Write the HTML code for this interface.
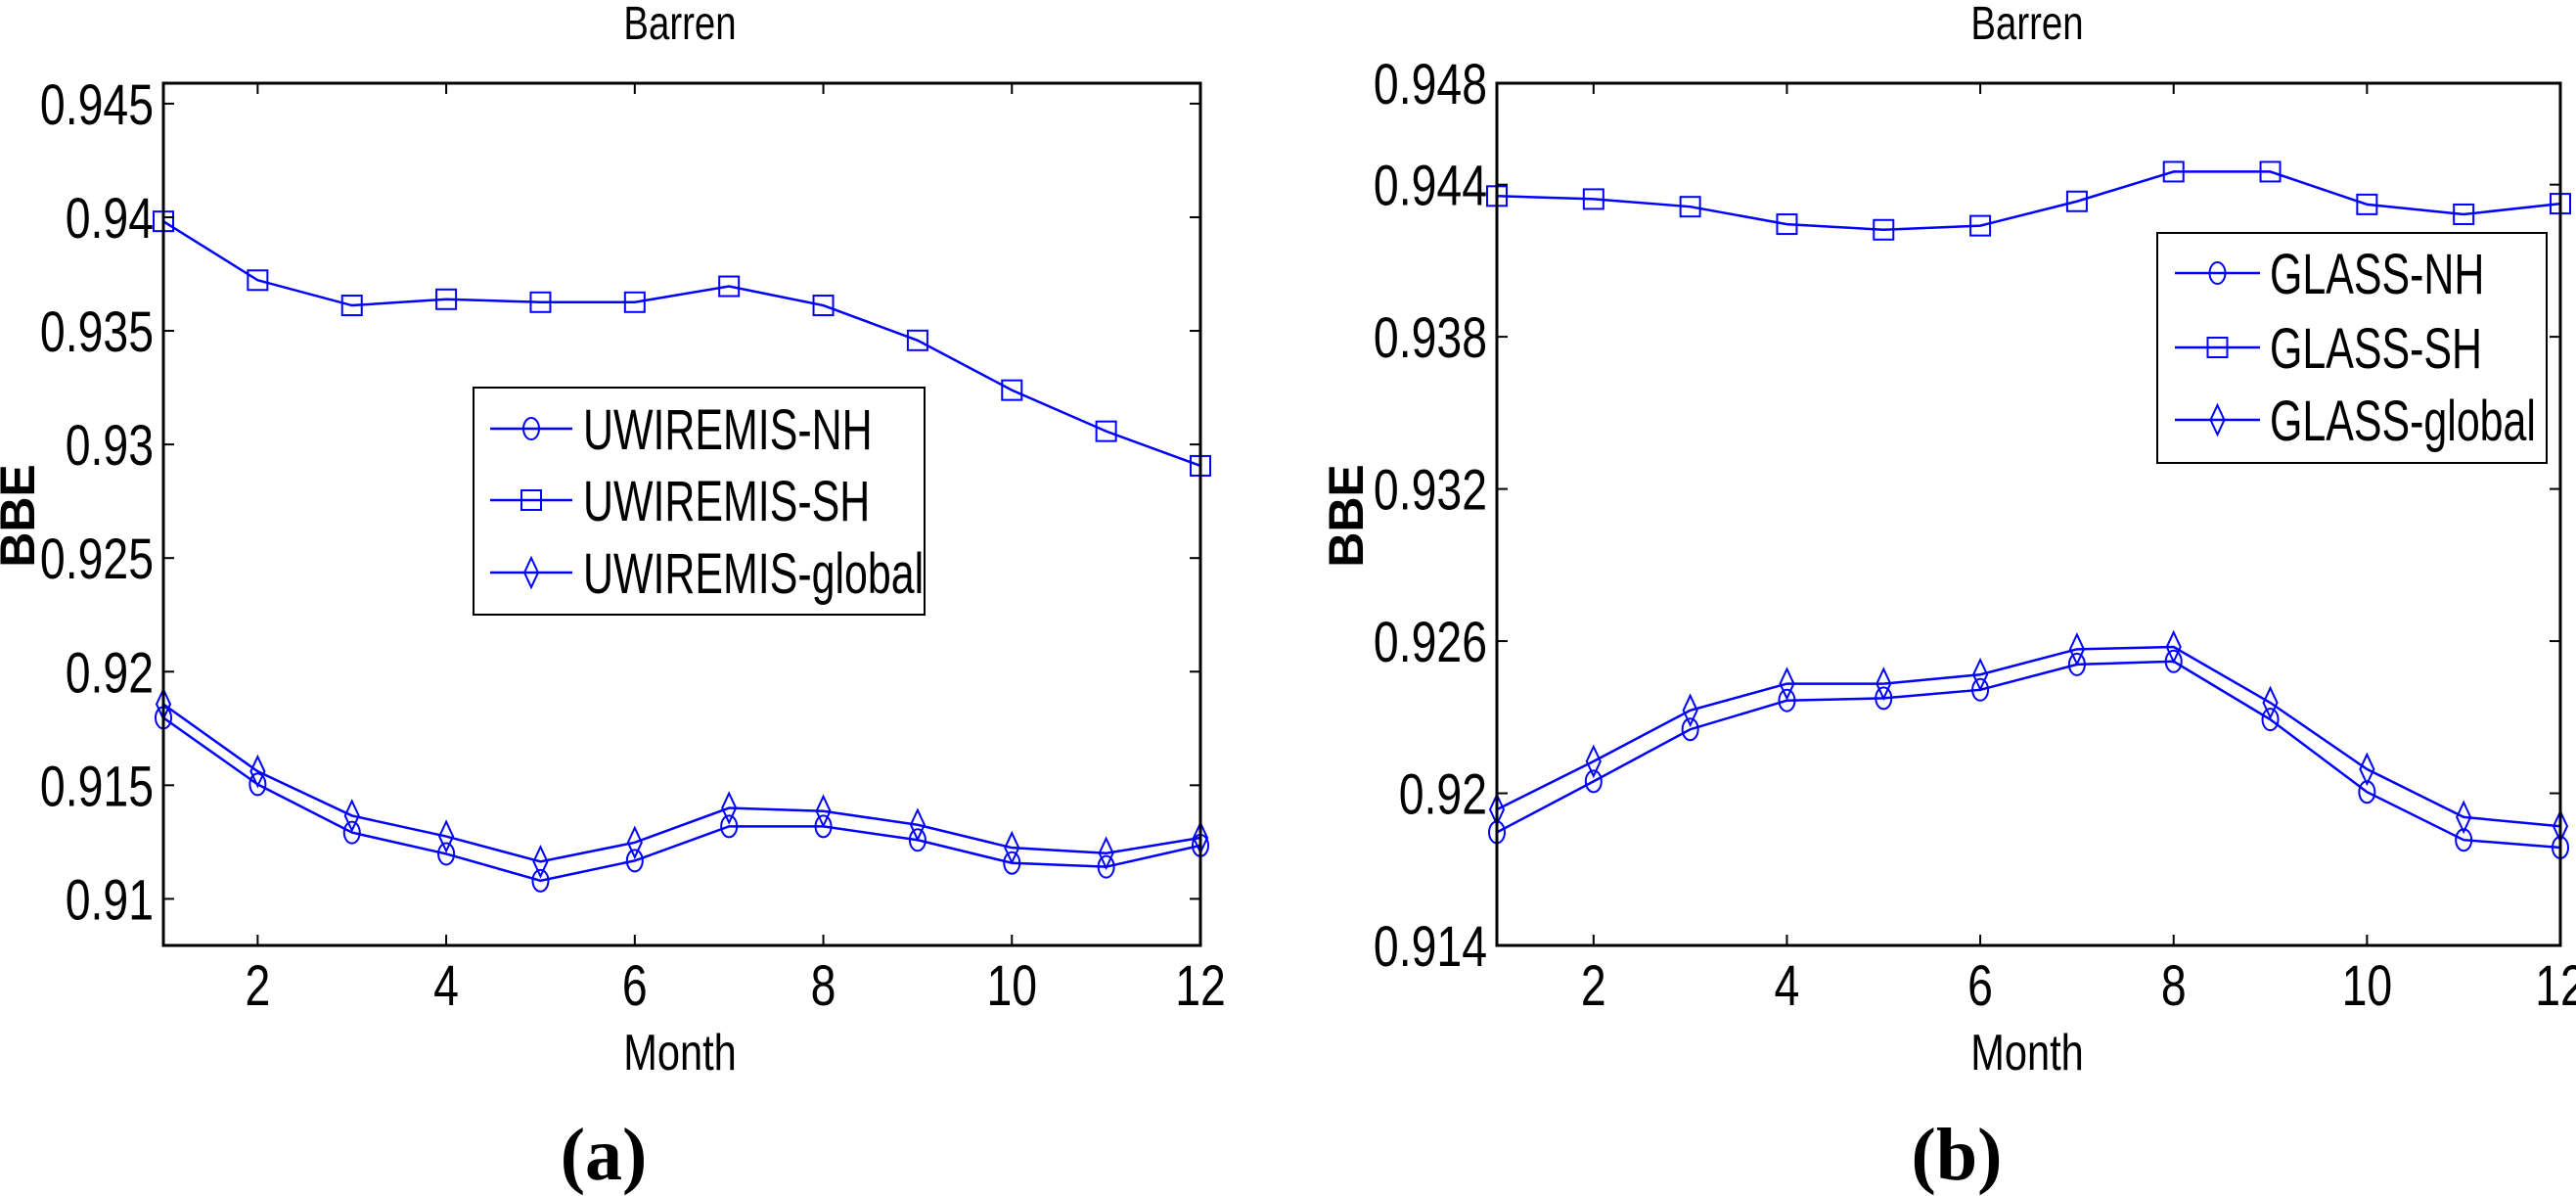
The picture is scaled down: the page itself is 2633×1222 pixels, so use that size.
<!DOCTYPE html>
<html><head><meta charset="utf-8"><style>
html,body{margin:0;padding:0;background:#fff}
svg{display:block}
text{font-family:"Liberation Sans",sans-serif;fill:#000}
text.cap{font-family:"Liberation Serif",serif}
</style></head><body>
<svg id="fig" width="2633" height="1222" viewBox="0 0 2633 1222" xmlns="http://www.w3.org/2000/svg"></svg>
<script>
const months = [1,2,3,4,5,6,7,8,9,10,11,12];
const xTickVals = [2,4,6,8,10,12];
const aTickVals = [0.91,0.915,0.92,0.925,0.93,0.935,0.94,0.945];
const aTickLabels = ["0.91","0.915","0.92","0.925","0.93","0.935","0.94","0.945"];
const aNH = [0.91797,0.91504,0.91292,0.91198,0.9108,0.91168,0.91319,0.91319,0.91259,0.91158,0.91141,0.91235];
const aSH = [0.93982,0.93723,0.93612,0.93639,0.93626,0.93626,0.93696,0.93612,0.93458,0.93239,0.93058,0.92906];
const aGL = [0.91857,0.91561,0.91366,0.91275,0.91164,0.91248,0.914,0.91386,0.91326,0.91225,0.91201,0.91269];
const bTickVals = [0.914,0.92,0.926,0.932,0.938,0.944,0.948];
const bTickLabels = ["0.914","0.92","0.926","0.932","0.938","0.944","0.948"];
const bNH = [0.91846,0.92047,0.92252,0.92366,0.92375,0.92408,0.92508,0.9252,0.92291,0.92005,0.91816,0.91786];
const bSH = [0.94355,0.94343,0.94313,0.94244,0.94222,0.94238,0.94334,0.94451,0.94451,0.94322,0.94283,0.94325];
const bGL = [0.91936,0.92126,0.92327,0.92432,0.92432,0.92468,0.92568,0.92577,0.92357,0.92095,0.91906,0.9187];

const NS="http://www.w3.org/2000/svg";
const svg=document.getElementById('fig');
function mk(tag,attrs,parent){const e=document.createElementNS(NS,tag);for(const k in attrs)e.setAttribute(k,attrs[k]);(parent||svg).appendChild(e);return e;}
function txt(str,x,y,size,anchor,sx,parent,extra){
  const g=mk('g',{transform:`translate(${x},${y}) scale(${sx},1)`},parent);
  const t=mk('text',Object.assign({x:0,y:0,'font-size':size,'text-anchor':anchor},extra||{}),g);
  t.textContent=str;return t;
}
function marker(type,x,y,parent){
  let m;
  if(type==='o') m=mk('ellipse',{cx:x,cy:y,rx:8,ry:11,fill:'none',stroke:'#0000ff','stroke-width':2},parent);
  else if(type==='s') m=mk('rect',{x:x-10,y:y-10,width:20,height:20,fill:'none',stroke:'#0000ff','stroke-width':2},parent);
  else m=mk('polygon',{points:`${x},${y-15} ${x+7},${y} ${x},${y+15} ${x-7},${y}`,fill:'none',stroke:'#0000ff','stroke-width':2},parent);
  return m;
}
function panel(cfg){
  const P=mk('g',{});
  
  
  const {L,R,T,B,ymin,ymax}=cfg;
  const xs=v=>L+(v-1)/(12-1)*(R-L);
  const ys=v=>B-(v-ymin)/(ymax-ymin)*(B-T);
  cfg.series.forEach(s=>{
    const g=mk('g',{},P);
    
    
    const pts=months.map((m,i)=>xs(m)+','+ys(s.vals[i])).join(' ');
    mk('polyline',{points:pts,fill:'none',stroke:'#0000ff','stroke-width':2.5},g);
    months.forEach((m,i)=>{const mm=marker(s.mk,xs(m),ys(s.vals[i]),g);
      
      });
  });
  const box=mk('rect',{x:L,y:T,width:R-L,height:B-T,fill:'none',stroke:'#000','stroke-width':3},P);
  
  
  xTickVals.forEach(v=>{
    const x=xs(v);
    mk('line',{x1:x,y1:B,x2:x,y2:B-11,stroke:'#000','stroke-width':2},P);
    mk('line',{x1:x,y1:T,x2:x,y2:T+11,stroke:'#000','stroke-width':2},P);
    const t=txt(String(v),x,B+61,58,'middle',0.8,P);
    
    
  });
  cfg.ticks.forEach((v,i)=>{
    const y=ys(v);
    mk('line',{x1:L,y1:y,x2:L+11,y2:y,stroke:'#000','stroke-width':2},P);
    mk('line',{x1:R,y1:y,x2:R-11,y2:y,stroke:'#000','stroke-width':2},P);
    const t=txt(cfg.labels[i],L-10,y+21,58,'end',0.8,P);
    
    
  });
  const ti=txt('Barren',cfg.titleX,40,48,'middle',0.8,P);
  
  
  const xl=txt('Month',cfg.titleX,1093,52,'middle',0.8,P);
  
  
  const yg=mk('g',{transform:`translate(${cfg.yLabX},527) rotate(-90)`},P);
  const yl=mk('text',{x:0,y:0,'font-size':50,'text-anchor':'middle','font-weight':'bold'},yg);
  yl.textContent='BBE';
  
  
  const cap=mk('text',{x:cfg.capX,y:1205,'font-size':76,'text-anchor':'middle','font-weight':'bold','class':'cap'},P);
  cap.textContent=cfg.cap;
  
  
  const lg=cfg.leg;
  const LG=mk('g',{},P);
  
  
  mk('rect',{x:lg.x,y:lg.y,width:lg.w,height:lg.h,fill:'#fff',stroke:'#000','stroke-width':2},LG);
  cfg.series.forEach((s,i)=>{
    const y=lg.rows[i];
    const e=mk('g',{},LG);
    
    
    mk('line',{x1:lg.l1,y1:y,x2:lg.l2,y2:y,stroke:'#0000ff','stroke-width':2.5},e);
    marker(s.mk,(lg.l1+lg.l2)/2,y,e);
    txt(s.label,lg.tx,y+21,58,'start',0.74,e);
  });
}
panel({name:'chart-a',L:167,R:1227,T:85,B:966,ymin:0.90795,ymax:0.9459,ticks:aTickVals,labels:aTickLabels,
  titleX:695,yLabX:35,capX:617,cap:'(a)',
  series:[{name:'uwiremis-nh',label:'UWIREMIS-NH',vals:aNH,mk:'o'},{name:'uwiremis-sh',label:'UWIREMIS-SH',vals:aSH,mk:'s'},{name:'uwiremis-global',label:'UWIREMIS-global',vals:aGL,mk:'d'}],
  leg:{x:484,y:396,w:461,h:232,rows:[438,511,585],l1:501,l2:585,tx:596}});
panel({name:'chart-b',L:1530,R:2617,T:85,B:966,ymin:0.914,ymax:0.948,ticks:bTickVals,labels:bTickLabels,
  titleX:2072,yLabX:1393,capX:2000,cap:'(b)',
  series:[{name:'glass-nh',label:'GLASS-NH',vals:bNH,mk:'o'},{name:'glass-sh',label:'GLASS-SH',vals:bSH,mk:'s'},{name:'glass-global',label:'GLASS-global',vals:bGL,mk:'d'}],
  leg:{x:2205,y:238,w:398,h:235,rows:[279,355,429],l1:2223,l2:2310,tx:2320}});
</script>
</body></html>
